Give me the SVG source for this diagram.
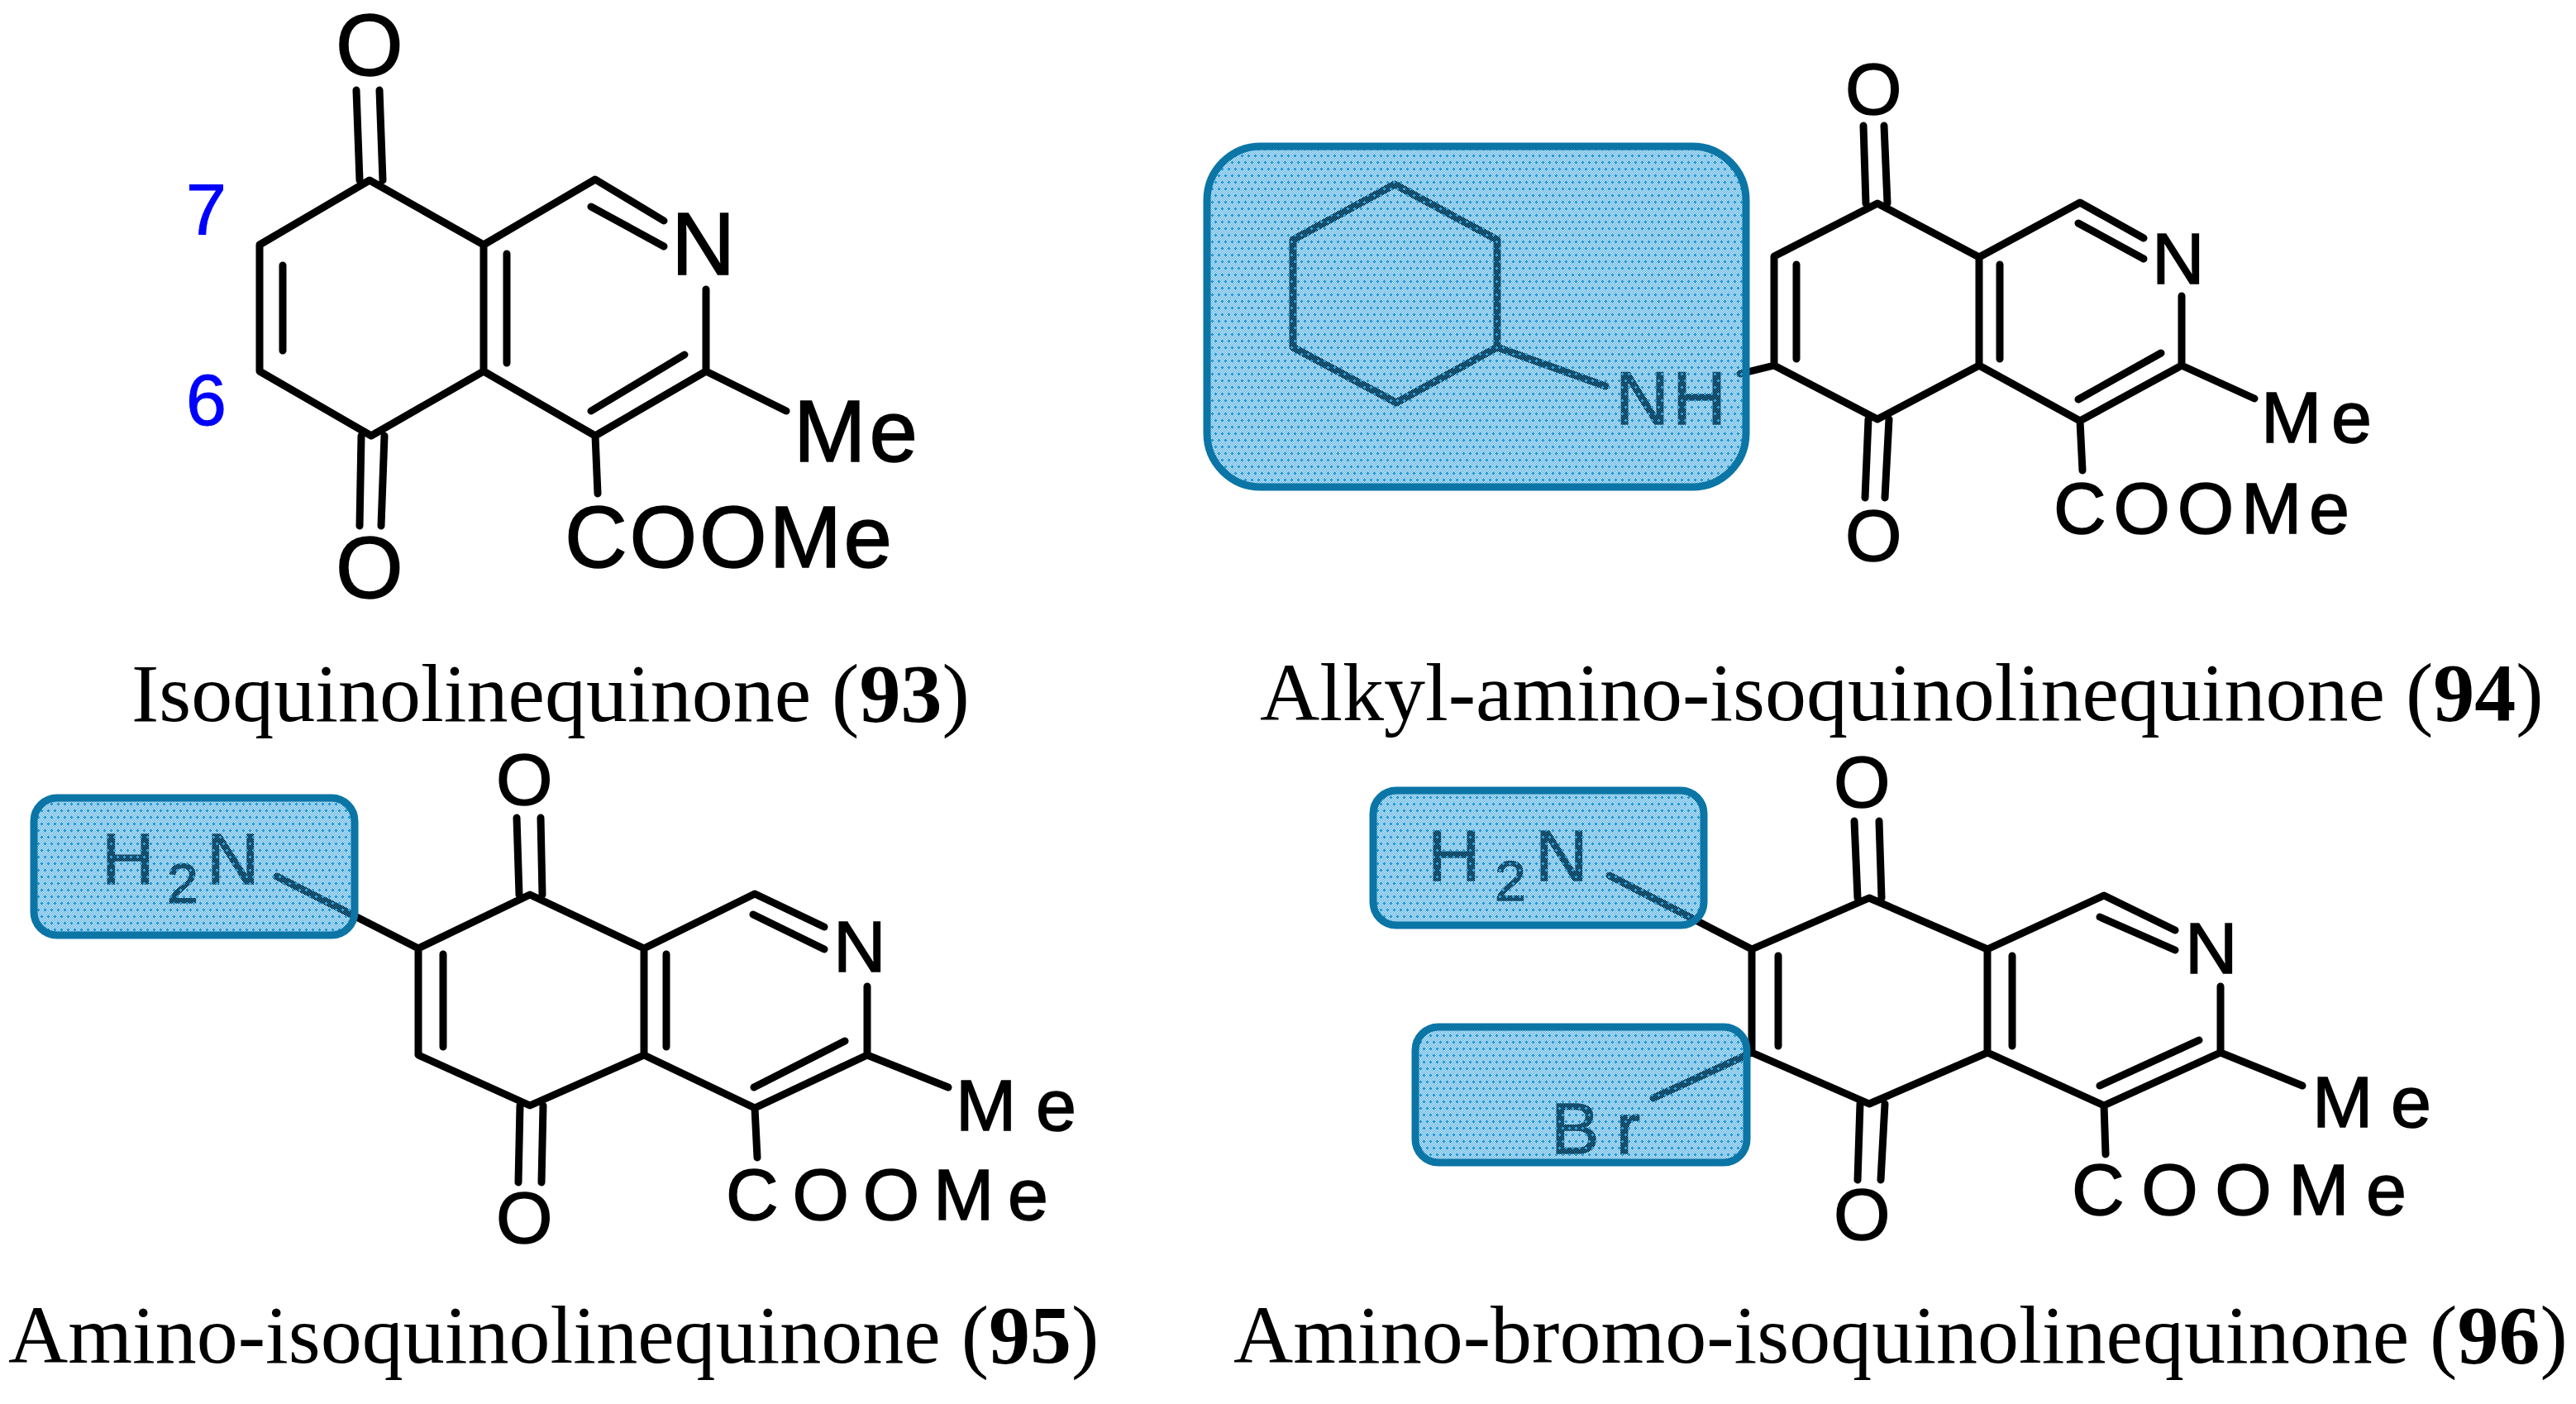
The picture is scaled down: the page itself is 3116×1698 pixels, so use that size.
<svg xmlns="http://www.w3.org/2000/svg" width="3116" height="1698" viewBox="0 0 3116 1698">
<style>
.b{fill:none;stroke:#000;stroke-width:9;stroke-linecap:round;stroke-linejoin:round}
.t{font-family:"Liberation Sans",Arial,sans-serif;fill:#000;stroke:#000;stroke-width:1.5}
.c{font-family:"Liberation Serif","Times New Roman",serif;font-size:100px;fill:#000}
.c tspan{font-weight:bold}
.n{font-family:"Liberation Sans",Arial,sans-serif;font-size:88px;fill:#0000ff;stroke:#0000ff;stroke-width:1}
.h{fill:url(#dots);stroke:#0b75a6;stroke-width:9}
</style>
<defs>
<pattern id="dots" patternUnits="userSpaceOnUse" width="8" height="16" shape-rendering="crispEdges">
<path fill="#2a9cd8" d="M0 0h1v1h-1zM2 0h1v1h-1zM4 0h1v1h-1zM6 0h1v1h-1zM1 1h1v1h-1zM3 1h1v1h-1zM5 1h1v1h-1zM7 1h1v1h-1zM0 2h1v1h-1zM2 2h1v1h-1zM4 2h1v1h-1zM6 2h1v1h-1zM1 3h1v1h-1zM3 3h1v1h-1zM5 3h1v1h-1zM7 3h1v1h-1zM0 4h1v1h-1zM2 4h1v1h-1zM4 4h1v1h-1zM6 4h1v1h-1zM1 5h1v1h-1zM3 5h1v1h-1zM5 5h1v1h-1zM7 5h1v1h-1zM0 6h1v1h-1zM2 6h1v1h-1zM4 6h1v1h-1zM6 6h1v1h-1zM1 7h1v1h-1zM3 7h1v1h-1zM5 7h1v1h-1zM7 7h1v1h-1zM0 8h1v1h-1zM2 8h1v1h-1zM4 8h1v1h-1zM6 8h1v1h-1zM1 9h1v1h-1zM3 9h1v1h-1zM5 9h1v1h-1zM7 9h1v1h-1zM0 10h1v1h-1zM2 10h1v1h-1zM4 10h1v1h-1zM6 10h1v1h-1zM1 11h1v1h-1zM3 11h1v1h-1zM5 11h1v1h-1zM7 11h1v1h-1zM0 12h1v1h-1zM2 12h1v1h-1zM4 12h1v1h-1zM6 12h1v1h-1zM1 13h1v1h-1zM3 13h1v1h-1zM5 13h1v1h-1zM7 13h1v1h-1zM0 14h1v1h-1zM2 14h1v1h-1zM4 14h1v1h-1zM6 14h1v1h-1zM1 15h1v1h-1zM3 15h1v1h-1zM5 15h1v1h-1zM7 15h1v1h-1zM2 3h1v3h-1zM1 4h3v1h-3zM6 11h1v3h-1zM5 12h3v1h-3z"/>
</pattern>
</defs>
<rect width="3116" height="1698" fill="#fff"/>

<g id="compound-93">
<g id="bonds-93" class="b">
<path d="M447 218L314 296V449L449 527L585 449V296ZM585 296L720 217L803 267M715 250L803 298M854 350V449L720 527L585 449M854 449L951 497M720 527L723 597M342 321V424M613 307V439M828 429L715 497M431 109L435 218M459 109L463 218M435 636L437 527M461 636L465 527"/>
</g>
<text class="t" font-size="105" x="406" y="91">O</text>
<text class="t" font-size="105" x="406" y="723">O</text>
<text class="t" font-size="107" x="812" y="332">N</text>
<text class="t" font-size="105" x="960" y="558" textLength="150">Me</text>
<text class="t" font-size="105" x="683" y="686" textLength="396">COOMe</text>
<text class="n" x="225" y="284">7</text>
<text class="n" x="225" y="514">6</text>
<text class="c" x="159" y="872">Isoquinolinequinone (<tspan>93</tspan>)</text>
</g>

<g id="compound-94">
<g id="bonds-94" class="b">
<path d="M2271 246L2146 310V442L2271 507L2394 442V311ZM2394 311L2516 245L2593 288M2514 270L2593 313M2639 358V442L2516 509L2394 442M2639 442L2727 482M2516 509L2519 569M2173 320V434M2419 320V434M2614 427L2514 483M2254 152L2257 246M2279 152L2283 246M2256 602L2260 507M2280 602L2285 507M2105 452L2146 442"/>
<path d="M1687 223L1811 290V420L1689 487L1564 420V290ZM1811 420L1942 467"/>
</g>
<text class="t" font-size="88" x="2232" y="138">O</text>
<text class="t" font-size="88" x="2232" y="678">O</text>
<text class="t" font-size="88" x="2603" y="343">N</text>
<text class="t" font-size="88" x="2735" y="535" textLength="134">Me</text>
<text class="t" font-size="88" x="2484" y="645" textLength="358">COOMe</text>
<text class="t" font-size="90" x="1954" y="513" textLength="134">NH</text>
<rect class="h" x="1460" y="177" width="652" height="412" rx="65" ry="65"/>
<text class="c" x="1524" y="871">Alkyl-amino-isoquinolinequinone (<tspan>94</tspan>)</text>
</g>

<g id="compound-95">
<g id="bonds-95" class="b">
<path d="M641 1082L506 1147V1276L641 1337L779 1276V1147ZM779 1147L913 1081L997 1121M911 1106L997 1148M1049 1193V1276L913 1340L779 1276M1049 1276L1147 1315M913 1340L916 1400M536 1154V1266M806 1154V1266M1022 1259L912 1315M625 989L628 1082M654 989L656 1082M627 1430L629 1337M655 1430L657 1337M335 1060L506 1147"/>
</g>
<text class="t" font-size="88" x="600" y="973">O</text>
<text class="t" font-size="88" x="600" y="1503">O</text>
<text class="t" font-size="88" x="1008" y="1175">N</text>
<text class="t" font-size="88" x="1156" y="1367" textLength="146">Me</text>
<text class="t" font-size="88" x="878" y="1475" textLength="390">COOMe</text>
<text class="t" font-size="88" x="123" y="1069">H</text>
<text class="t" font-size="68" x="202" y="1092">2</text>
<text class="t" font-size="88" x="250" y="1069">N</text>
<rect class="h" x="41" y="965" width="388" height="166" rx="28" ry="28"/>
<text class="c" x="10" y="1648">Amino-isoquinolinequinone (<tspan>95</tspan>)</text>
</g>

<g id="compound-96">
<g id="bonds-96" class="b">
<path d="M2261 1086L2119 1148V1273L2261 1335L2404 1273V1148ZM2404 1148L2545 1083L2631 1125M2540 1109L2631 1149M2686 1193V1273L2545 1337L2404 1273M2686 1273L2785 1313M2545 1337L2547 1396M2151 1156V1265M2434 1156V1265M2660 1258L2540 1313M2243 993L2247 1086M2273 993L2276 1086M2247 1427L2250 1335M2275 1427L2280 1335M1947 1059L2119 1148M2000 1328L2119 1273"/>
</g>
<text class="t" font-size="88" x="2218" y="976">O</text>
<text class="t" font-size="88" x="2218" y="1499">O</text>
<text class="t" font-size="88" x="2643" y="1177">N</text>
<text class="t" font-size="88" x="2797" y="1363" textLength="144">Me</text>
<text class="t" font-size="88" x="2506" y="1469" textLength="405">COOMe</text>
<text class="t" font-size="88" x="1727" y="1065">H</text>
<text class="t" font-size="68" x="1808" y="1089">2</text>
<text class="t" font-size="88" x="1857" y="1065">N</text>
<text class="t" font-size="88" x="1876" y="1395" textLength="108">Br</text>
<rect class="h" x="1661" y="956" width="400" height="163" rx="28" ry="28"/>
<rect class="h" x="1712" y="1242" width="401" height="164" rx="28" ry="28"/>
<text class="c" x="1492" y="1648">Amino-bromo-isoquinolinequinone (<tspan>96</tspan>)</text>
</g>
</svg>
